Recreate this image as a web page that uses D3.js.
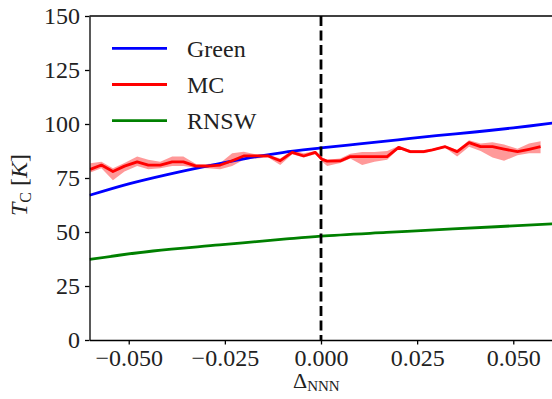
<!DOCTYPE html>
<html>
<head>
<meta charset="utf-8">
<script src="https://cdn.jsdelivr.net/npm/d3@7"></script>
<style>
  body { margin: 0; background: #fff; }
  svg text { font-family: "Liberation Serif", "DejaVu Serif", serif; fill: #222; }
  .axis path, .axis line { stroke: #000; stroke-width: 1.3; }
</style>
</head>
<body>
<svg id="chart" width="552" height="399"></svg>
<script>
// Green (theory) curve
var greenDelta = [-0.0602, -0.05, -0.04, -0.03, -0.02, -0.01, 0.0, 0.01, 0.02, 0.03, 0.04, 0.05, 0.0602];
var greenTc = [67.0, 72.3, 76.6, 80.4, 83.9, 86.8, 88.9, 90.8, 92.7, 94.6, 96.3, 98.2, 100.4];

// RNSW curve
var rnswDelta = [-0.0602, -0.0437, -0.0264, -0.009, 0.0, 0.017, 0.0343, 0.0602];
var rnswTc = [37.3, 41.2, 44.0, 46.8, 48.1, 49.8, 51.4, 53.8];

// MC points with error band
var mcDelta = [-0.0600, -0.0571, -0.0541, -0.0511, -0.0478, -0.0449, -0.0418, -0.0387, -0.0358, -0.0325,
    -0.0296, -0.0262, -0.0231, -0.0201, -0.0171, -0.0137, -0.0106, -0.0075, -0.0045, -0.0015,
    0.0003, 0.0016, 0.0050, 0.0076, 0.0107, 0.0139, 0.0172, 0.0202, 0.0232, 0.0267,
    0.0290, 0.0323, 0.0354, 0.0385, 0.0415, 0.0446, 0.0476, 0.0511, 0.0541, 0.0571];
var mcTc = [79.0, 81.0, 78.0, 80.5, 82.5, 81.0, 81.0, 82.5, 82.5, 80.5,
    80.5, 81.0, 83.0, 85.2, 85.2, 85.2, 83.0, 86.9, 85.2, 86.9,
    83.6, 82.8, 82.9, 84.9, 84.9, 84.9, 84.9, 89.2, 87.2, 87.2,
    88.0, 89.5, 87.2, 91.4, 89.5, 89.5, 88.4, 87.2, 88.3, 89.5];
var mcLow = [77.5, 79.5, 74.0, 78.0, 80.5, 79.0, 79.5, 80.5, 80.5, 79.8,
    79.5, 79.0, 80.5, 83.5, 84.0, 84.5, 81.0, 86.0, 84.5, 86.0,
    82.5, 80.5, 82.0, 84.0, 81.0, 82.5, 83.5, 88.5, 86.5, 86.5,
    87.5, 89.0, 85.0, 89.5, 87.5, 84.5, 83.0, 85.5, 86.5, 86.5];
var mcHigh = [81.8, 82.5, 79.5, 82.0, 85.0, 83.5, 82.5, 85.0, 85.0, 81.5,
    81.5, 82.0, 86.5, 87.2, 86.0, 85.8, 84.0, 87.8, 86.5, 87.5,
    84.5, 83.5, 84.0, 86.2, 87.0, 87.0, 87.5, 89.8, 88.0, 88.0,
    88.5, 90.0, 88.0, 92.5, 91.0, 91.5, 90.5, 88.5, 91.0, 92.0];

var xTicks = [-0.05, -0.025, 0, 0.025, 0.05];
var yTicks = [0, 25, 50, 75, 100, 125, 150];
var legendNames = ['Green', 'MC', 'RNSW'];
var legendColors = ['#0000ff', '#ff0000', '#008000'];

var svg = d3.select('#chart');
var padLeft = 89.5, padRight = 552.5, padTop = 16, padBottom = 340;
var fontSize = '24px';
var lineWidth = 2.8;

var x = d3.scaleLinear().domain([-0.0602, 0.0602]).range([padLeft, padRight]);
var y = d3.scaleLinear().domain([0, 150]).range([padBottom, padTop]);

svg.append('defs').append('clipPath').attr('id', 'plot')
    .append('rect')
    .attr('x', padLeft).attr('y', padTop)
    .attr('width', padRight - padLeft).attr('height', padBottom - padTop);

var plot = svg.append('g').attr('clip-path', 'url(#plot)');

var band = d3.area()
    .x(function (d) { return x(mcDelta[d]); })
    .y0(function (d) { return y(mcLow[d]); })
    .y1(function (d) { return y(mcHigh[d]); });
plot.append('path')
    .attr('d', band(d3.range(mcDelta.length)))
    .attr('fill', '#ff0000')
    .attr('fill-opacity', 0.4);

function drawCurve(xs, ys, color, curve) {
    var line = d3.line()
        .x(function (d) { return x(xs[d]); })
        .y(function (d) { return y(ys[d]); })
        .curve(curve);
    plot.append('path')
        .attr('d', line(d3.range(xs.length)))
        .attr('fill', 'none')
        .attr('stroke', color)
        .attr('stroke-width', lineWidth)
        .attr('stroke-linejoin', 'round');
}

drawCurve(greenDelta, greenTc, legendColors[0], d3.curveCatmullRom);
drawCurve(rnswDelta, rnswTc, legendColors[2], d3.curveCatmullRom);

// dashed line at zero
plot.append('line')
    .attr('x1', x(0)).attr('x2', x(0))
    .attr('y1', padTop).attr('y2', padBottom)
    .attr('stroke', '#000')
    .attr('stroke-width', lineWidth)
    .attr('stroke-dasharray', '10,4.5');

drawCurve(mcDelta, mcTc, legendColors[1], d3.curveLinear);

// axes
svg.append('g')
    .attr('class', 'axis')
    .attr('transform', 'translate(0,' + padBottom + ')')
    .call(d3.axisBottom(x).tickValues(xTicks).tickFormat(d3.format('.3f')).tickSize(4.5).tickPadding(4).tickSizeOuter(0));
svg.append('g')
    .attr('class', 'axis')
    .attr('transform', 'translate(' + padLeft + ',0)')
    .call(d3.axisLeft(y).tickValues(yTicks).tickSize(4.5).tickPadding(5).tickSizeOuter(0));
svg.selectAll('.axis text').style('font-size', fontSize).attr('fill', '#222');

svg.append('line')
    .attr('x1', padLeft).attr('x2', padRight)
    .attr('y1', padTop).attr('y2', padTop)
    .attr('stroke', '#000').attr('stroke-width', 1.3);

// legend
var legend = svg.append('g');
legendNames.forEach(function (name, i) {
    var ly = 48.3 + i * 36.2;
    legend.append('line')
        .attr('x1', 112).attr('x2', 167)
        .attr('y1', ly).attr('y2', ly)
        .attr('stroke', legendColors[i])
        .attr('stroke-width', lineWidth);
    legend.append('text')
        .attr('x', 187).attr('y', ly + 8.5)
        .style('font-size', fontSize)
        .text(name);
});

// axis labels
var xl = svg.append('text')
    .attr('x', 293).attr('y', 388)
    .style('font-size', '22px');
xl.append('tspan').text('Δ');
xl.append('tspan').attr('dy', 3).style('font-size', '15px').text('NNN');

var yl = svg.append('text')
    .attr('transform', 'translate(27,216) rotate(-90)')
    .style('font-size', fontSize);
yl.append('tspan').style('font-style', 'italic').text('T');
yl.append('tspan').attr('dy', 4).style('font-size', '16px').text('C');
yl.append('tspan').attr('dy', -4).text(' [');
yl.append('tspan').style('font-style', 'italic').text('K');
yl.append('tspan').text(']');
</script>
</body>
</html>
